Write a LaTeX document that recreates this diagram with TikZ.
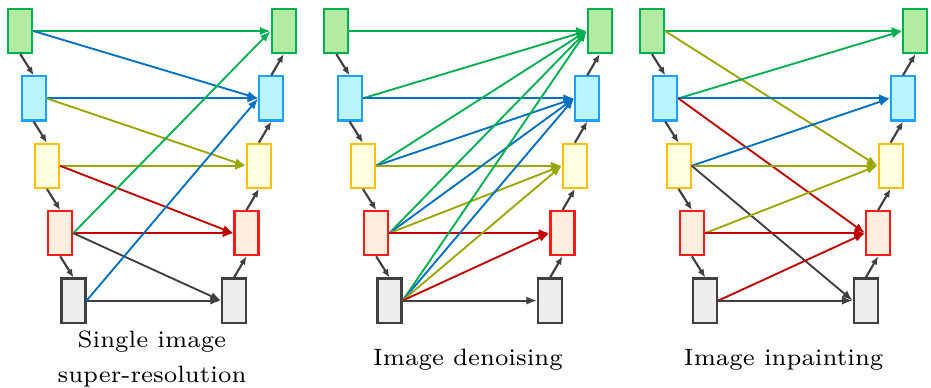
\documentclass[tikz,border=0pt]{standalone}
\usetikzlibrary{arrows.meta}

% box borders / fills
\definecolor{grnB}{HTML}{00B050}\definecolor{grnF}{HTML}{B4EBA2}
\definecolor{bluB}{HTML}{1FA0FF}\definecolor{bluF}{HTML}{B9F5FF}
\definecolor{yelB}{HTML}{FFC000}\definecolor{yelF}{HTML}{FFFFDF}
\definecolor{redB}{HTML}{FF1A1A}\definecolor{redF}{HTML}{FFEEDD}
\definecolor{gryB}{HTML}{404040}\definecolor{gryF}{HTML}{EEEEEE}
% skip-connection colours, indexed by the level they end at
\definecolor{ln1}{HTML}{00B050}
\definecolor{ln2}{HTML}{0070C0}
\definecolor{ln3}{HTML}{99A800}
\definecolor{ln4}{HTML}{C00000}
\definecolor{ln5}{HTML}{404040}

\tikzset{
  blk/.style={draw, line width=0.6pt, minimum width=6.7pt, minimum height=12.3pt, inner sep=0pt},
  lev1/.style={blk, draw=grnB, fill=grnF},
  lev2/.style={blk, draw=bluB, fill=bluF},
  lev3/.style={blk, draw=yelB, fill=yelF},
  lev4/.style={blk, draw=redB, fill=redF},
  lev5/.style={blk, draw=gryB, fill=gryF},
  flow/.style={color=gryB, line width=0.6pt, -{Latex[length=2.3pt,width=1.9pt]}},
  link/.style={line width=0.52pt, -{Latex[length=3pt,width=2.3pt]}},
  lbl/.style={font=\fontsize{6.6}{9.5}\selectfont, align=center, inner sep=0pt}
}

% encoder/decoder columns of one panel: #1 = panel id, #2 = horizontal offset
\newcommand\uladder[2]{%
  \foreach \i in {1,...,5}{%
    \node[lev\i] (p#1l\i) at ({#2+20.3+13.3*(\i-1)}, {31+67.4*(\i-1)}) {};
    \node[lev\i] (p#1r\i) at ({#2+283.7-12.4*(\i-1)}, {31+67.4*(\i-1)}) {};
  }%
  \foreach \i [evaluate=\i as \j using int(\i+1)] in {1,...,4}{%
    \draw[flow] (p#1l\i.south) -- (p#1l\j.north);
    \draw[flow] (p#1r\j.north) -- (p#1r\i.south);
  }%
}
% skip connections: #1 = panel id, #2 = list of from/to levels
\newcommand\skiplinks[2]{%
  \foreach \a/\b in {#2}{%
    \draw[link, color=ln\b] (p#1l\a.east) -- (p#1r\b.west);
  }%
}

\begin{document}
\begin{tikzpicture}[x=0.279pt, y=-0.279pt]
\useasboundingbox (0,0) rectangle (931,388);

\uladder{1}{0}
\uladder{2}{316}
\uladder{3}{631.7}

\skiplinks{1}{1/1,1/2,2/2,2/3,3/3,3/4,4/4,4/1,4/5,5/5,5/2}
\skiplinks{2}{1/1,2/1,2/2,3/1,3/2,3/3,4/1,4/2,4/3,4/4,5/1,5/2,5/3,5/4,5/5}
\skiplinks{3}{1/1,1/3,2/1,2/2,2/4,3/2,3/3,3/5,4/3,4/4,5/4,5/5}

\node[lbl] (cap1) at (152, 359) {Single image\\super-resolution};
\node[lbl, anchor=base] (cap2) at (468, 366) {Image denoising};
\node[lbl, anchor=base] (cap3) at (783.7, 366) {Image inpainting};
\end{tikzpicture}
\end{document}
